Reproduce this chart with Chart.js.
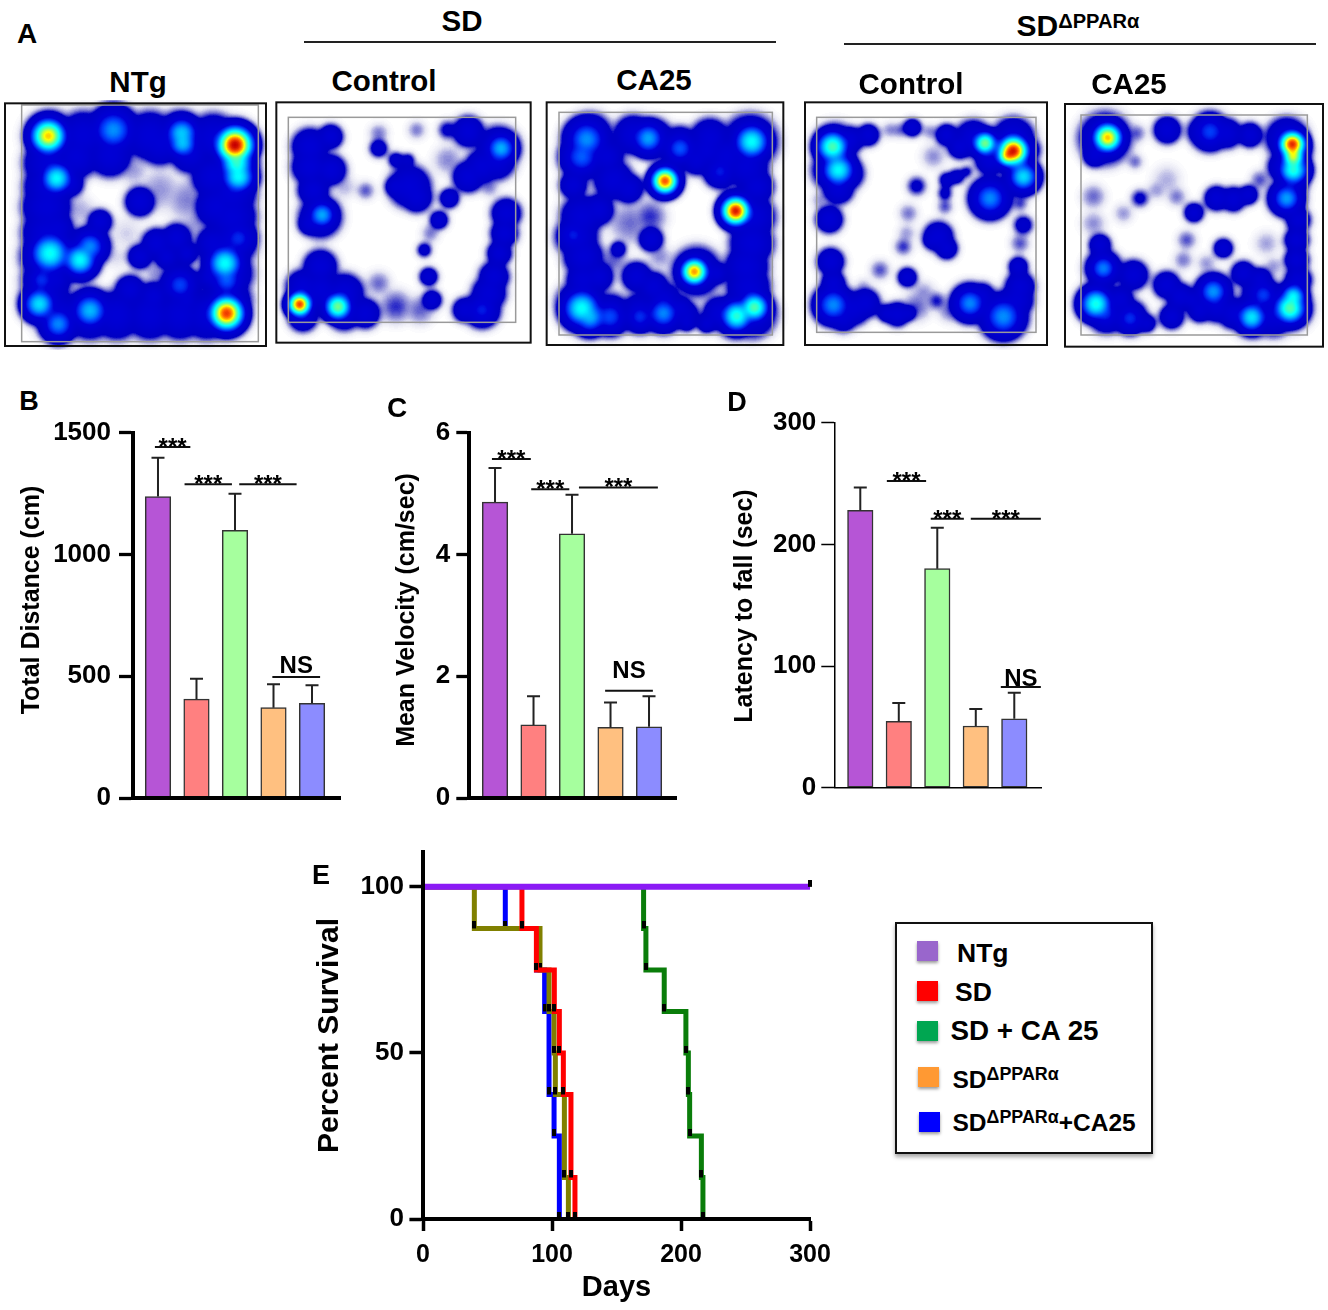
<!DOCTYPE html>
<html>
<head>
<meta charset="utf-8">
<title>Figure</title>
<script src="https://cdn.jsdelivr.net/npm/chart.js@4"></script>
<style>
  html, body { margin: 0; padding: 0; background: #fff; }
  body { position: relative; width: 1328px; height: 1310px; overflow: hidden; font-family: "Liberation Sans", Arial, sans-serif; font-weight: bold; color: #000; }
  canvas { position: absolute; display: block; }
  .txt { position: absolute; line-height: 1; white-space: nowrap; }
  .txt sup { line-height: 0; font-size: .67em; vertical-align: .42em; }
  .rule { position: absolute; height: 2px; background: #222; }
  .legend { position: absolute; left: 895px; top: 922px; width: 254px; height: 228px; border: 2.5px solid #111; box-shadow: 0 3px 4px rgba(0,0,0,.35); }
  .swatch { position: absolute; width: 21px; height: 20px; box-shadow: 0 2px 3px rgba(0,0,0,.4); }
</style>
</head>
<body>
<script>
// ---- bar panels B, C, D ----
const groups = ["NTg", "SD", "SD + CA 25", "SD\u0394PPAR\u03b1", "SD\u0394PPAR\u03b1+CA25"];
const groupColors = ["#B655D6", "#FF8080", "#A6FF9E", "#FFC080", "#8C8CFF"];

const distanceMeans = [1238, 406, 1099, 371, 389];
const distanceErr = [159, 84, 150, 96, 74];
const velocityMeans = [4.86, 1.2, 4.34, 1.16, 1.17];
const velocityErr = [0.56, 0.47, 0.64, 0.41, 0.5];
const latencyMeans = [228, 54.5, 180, 50.7, 56.7];
const latencyErr = [18.8, 15.1, 33.7, 14, 21.3];

// from group, to group, value, text, gap over the line
const distanceSig = [[0.92, 1.84, 1441, "***"], [1.69, 2.92, 1288, "***"], [3.11, 4.6, 1288, "***"], [3.97, 5.21, 497, "NS", 4]];
const velocitySig = [[0.92, 1.93, 5.57, "***"], [1.94, 2.93, 5.07, "***"], [3.18, 5.23, 5.1, "***"], [3.86, 5.1, 1.76, "NS", 13]];
const latencySig = [[1.69, 2.71, 252, "***"], [2.83, 3.69, 221, "***"], [3.87, 5.69, 221, "***"], [4.65, 5.69, 82.7, "NS", 1]];

// ---- survival panel E ----
const ntgDays = [0, 300];
const ntgPct = [100, 100];
const sdDays = [0, 76.7, 87.9, 101.8, 105.7, 108.8, 114.7, 117.8];
const sdPct = [100, 87.5, 75, 62.5, 50, 37.5, 12.5, 0];
const caDays = [0, 171, 172.8, 187, 203.8, 205.7, 206.7, 215.8, 217];
const caPct = [100, 87.5, 75, 62.5, 50, 37.5, 25, 12.5, 0];
const koDays = [0, 39.8, 90.7, 97.7, 101.6, 102.6, 109.6, 112.7];
const koPct = [100, 87.5, 75, 62.5, 50, 37.5, 12.5, 0];
const koCaDays = [0, 63.8, 88, 94.3, 97.7, 101.6, 105.7];
const koCaPct = [100, 87.5, 75, 62.5, 37.5, 25, 0];

// ---- track heat maps A: x, y, spread, density ----
const ntgSpots = [
  [150,108,100,.35],[250,108,100,.35],[350,108,100,.35],[450,108,100,.35],[540,108,100,.35],[640,115,100,.35],[700,135,100,.35],
  [700,200,100,.35],[695,280,100,.35],[695,350,100,.35],[695,430,100,.35],[685,520,100,.35],[680,600,100,.35],[675,640,100,.35],
  [620,645,100,.35],[540,645,100,.35],[450,645,100,.35],[350,645,100,.35],[270,645,100,.35],[180,650,100,.35],[135,600,100,.35],
  [140,540,100,.35],[135,470,100,.35],[140,400,100,.35],[140,320,100,.35],[145,260,100,.35],[145,190,100,.35],
  [230,170,90,.35],[330,165,90,.35],[480,130,90,.35],[570,160,80,.35],[640,230,90,.35],[650,320,90,.35],[210,250,55,.35],
  [420,305,60,.35],[300,365,50,.35],[470,430,60,.35],[530,415,60,.35],[420,470,50,.35],[390,570,60,.35],[460,590,60,.35],
  [640,430,70,.35],[630,530,50,.35],[540,550,70,.35],[170,540,50,.35],[230,630,40,.35],
  [170,385,70,.35],[190,440,60,.35],[250,420,50,.35],[500,470,50,.35],[560,460,45,.35],[560,600,50,.35],
  [145,108,110,.88],[705,135,115,1],[715,230,80,.68],[710,190,80,.72],[680,640,110,.96],[170,235,75,.68],
  [150,460,95,.68],[240,480,80,.68],[270,440,70,.55],[118,612,75,.65],[270,632,85,.6],[175,672,70,.55],
  [675,490,85,.68],[680,540,70,.5],[545,100,80,.62],[548,130,70,.62],[340,90,90,.55],[540,555,70,.47],[125,540,60,.45],[715,415,70,.44],
  [480,270,90,.07],[560,300,90,.08],[590,370,70,.07],[400,210,60,.07],[240,330,60,.06],[380,400,70,.04],[470,520,50,.08],[150,310,30,.08],[350,470,50,.04]
];
const sdSpots = [
  [89,613,75,1],[204,620,85,.8],[151,500,70,.35],[99,560,70,.35],[151,570,80,.35],[223,580,80,.35],[285,640,60,.35],[223,640,70,.35],[99,650,60,.35],
  [120,140,75,.35],[182,210,65,.35],[120,200,75,.35],[130,270,65,.35],[151,350,85,.35],[156,345,65,.6],[120,370,50,.35],[182,110,50,.35],
  [326,145,35,.3],[378,180,30,.3],[414,180,25,.3],[440,90,35,.1],[533,90,40,.2],[326,100,40,.1],[595,95,65,.35],
  [693,145,70,.6],[685,145,90,.35],[636,200,70,.35],[595,230,65,.35],[678,180,80,.35],
  [419,260,85,.35],[440,290,65,.35],[378,260,45,.35],[538,295,38,.35],[507,360,35,.35],[463,450,28,.3],[476,530,35,.35],[486,600,40,.35],[287,272,35,.12],
  [709,340,60,.35],[703,400,55,.35],[688,460,50,.35],[672,530,60,.35],[657,580,70,.35],[636,630,65,.42],[585,630,50,.35],
  [378,620,70,.12],[326,550,50,.1],[450,630,60,.1],[481,400,35,.1],[223,260,50,.06],[533,180,60,.08],[657,260,40,.1]
];
const sdCaSpots = [
  [375,243,85,.97],[587,333,90,1],[463,515,85,.93],[635,125,85,.68],[125,625,90,.68],[150,650,80,.6],[590,648,75,.72],[643,622,70,.76],
  [140,118,85,.55],[125,170,80,.5],[325,115,70,.58],[420,145,65,.5],[540,215,60,.42],[370,640,70,.55],[300,650,60,.45],[210,650,70,.48],[100,405,60,.42],
  [150,105,90,.35],[280,105,80,.35],[340,115,80,.35],[420,130,70,.35],[510,115,80,.35],[630,125,110,.35],[110,170,75,.35],[100,255,55,.35],[200,170,70,.35],
  [220,240,80,.35],[265,265,60,.35],[560,170,90,.35],[620,200,90,.35],[650,260,70,.35],[640,350,90,.35],[635,430,90,.35],[620,500,90,.35],[625,560,90,.35],[635,640,100,.35],[590,650,90,.35],[500,150,80,.35],[470,180,60,.35],
  [125,350,85,.35],[110,410,85,.35],[130,470,80,.35],[175,330,65,.35],[175,530,60,.35],[130,540,70,.35],[115,610,90,.35],[150,645,90,.35],[210,645,85,.35],
  [333,418,50,.35],[235,447,30,.33],[270,370,90,.09],[330,350,70,.12],[220,480,60,.1],[360,470,50,.08],[240,130,50,.1],
  [290,530,60,.35],[340,560,60,.35],[370,600,70,.35],[300,640,80,.35],[380,635,75,.35],[440,640,50,.3],[470,515,100,.35],[530,520,45,.35],[540,640,70,.35],[420,625,50,.35],[500,670,40,.35],[440,665,40,.35]
];
const koSpots = [
  [640,153,95,1],[625,165,70,.97],[555,130,75,.82],[98,140,75,.75],[115,210,80,.68],[670,230,70,.65],[570,295,75,.55],[100,615,75,.55],[510,610,70,.55],[610,650,85,.55],
  [105,135,85,.35],[150,120,55,.35],[205,105,45,.35],[100,210,85,.35],[140,220,70,.35],[115,265,65,.35],[88,358,55,.35],[92,485,55,.35],[100,550,50,.35],[105,610,75,.35],[160,625,70,.35],[195,610,60,.35],[130,650,60,.35],
  [292,643,50,.35],[260,640,35,.35],[325,640,30,.35],[337,83,35,.35],[440,105,45,.35],[520,115,75,.35],[480,140,50,.35],[640,115,85,.35],[675,150,60,.35],[675,240,55,.35],[570,295,75,.35],[570,180,60,.35],
  [470,230,30,.3],[440,240,30,.3],[500,215,20,.3],[435,280,28,.25],[435,320,30,.14],[590,240,30,.12],
  [415,410,60,.35],[440,445,45,.35],[395,420,35,.35],[350,258,40,.2],[322,532,38,.35],[410,603,35,.16],
  [670,375,40,.26],[660,430,40,.12],[655,500,38,.35],[660,560,60,.35],[650,600,70,.35],[610,640,85,.35],[510,610,80,.35],[545,590,55,.35],
  [325,340,40,.1],[320,400,35,.08],[310,440,35,.14],[240,510,40,.12],[190,560,30,.08],[350,620,60,.1],[370,580,50,.08],[450,630,50,.1],[60,300,35,.08],[660,310,30,.15],[400,170,50,.08],[270,90,30,.1],[390,95,30,.1],[300,90,30,.12]
];
const koCaSpots = [
  [143,113,90,.9],[697,133,85,1],[700,170,70,.88],[700,210,70,.72],[680,295,65,.58],[130,505,60,.55],[108,612,75,.7],[690,625,75,.76],[700,590,60,.7],[575,652,70,.66],[460,575,65,.57],[450,95,70,.47],[610,585,60,.47],[210,655,60,.45],[135,640,60,.45],
  [135,115,105,.35],[105,165,50,.35],[322,90,55,.35],[430,95,65,.35],[500,100,60,.35],[570,105,50,.35],[680,115,85,.35],[705,150,70,.35],[670,200,65,.35],[700,250,60,.35],[670,300,65,.35],
  [715,360,50,.35],[710,420,50,.35],[710,480,50,.35],[715,540,55,.35],[685,620,95,.35],[640,645,85,.35],[580,645,90,.35],[520,640,65,.35],[470,620,65,.35],[460,575,75,.35],[420,630,50,.35],
  [600,580,75,.35],[550,520,50,.35],[600,540,50,.35],[490,445,40,.35],[402,338,38,.35],[240,295,35,.2],[470,295,50,.35],[520,298,50,.35],[565,285,38,.35],
  [120,435,45,.35],[130,505,75,.35],[220,525,60,.35],[115,610,85,.35],[140,645,75,.35],[180,600,55,.35],[210,650,70,.35],[260,670,35,.35],
  [320,555,55,.35],[360,590,55,.35],[335,650,50,.35],[395,600,40,.35],
  [225,185,30,.12],[100,290,50,.1],[100,370,50,.08],[230,100,35,.12],[350,290,40,.1],[290,270,40,.08],[600,240,40,.12],[380,420,40,.12],[370,480,40,.1],[320,240,60,.06],[190,340,40,.08],[620,430,50,.07],[640,500,40,.08],[440,490,40,.08]
];

Chart.defaults.font.family = '"Liberation Sans", Arial, sans-serif';
Chart.defaults.color = "#000";
Chart.defaults.animation = false;

function addCanvas(left, top, w, h) {
  const c = document.createElement("canvas");
  c.width = w;
  c.height = h;
  c.style.left = left + "px";
  c.style.top = top + "px";
  c.style.width = w + "px";
  c.style.height = h + "px";
  document.body.appendChild(c);
  return c;
}

function addText(html, x, y, size, alignLeft) {
  const d = document.createElement("div");
  d.className = "txt";
  d.innerHTML = html;
  d.style.left = x + "px";
  d.style.top = y + "px";
  d.style.fontSize = size + "px";
  d.style.transform = alignLeft ? "translateY(-50%)" : "translate(-50%,-50%)";
  document.body.appendChild(d);
}

function addRule(x1, x2, y) {
  const d = document.createElement("div");
  d.className = "rule";
  d.style.left = x1 + "px";
  d.style.top = y + "px";
  d.style.width = (x2 - x1) + "px";
  document.body.appendChild(d);
}

// keep the plot area where it was asked for, whatever the tick labels measure
function fixBox(s, w, h) {
  if (w) s.width = w;
  if (h) s.height = h;
  s.paddingLeft = s.paddingRight = s.paddingTop = s.paddingBottom = 0;
}

// ---- heat maps ----
// blobs go down as grey levels (keeping the max), then the grey is mapped through a jet ramp
const rampStops = [
  [0, 255, 255, 255], [.03, 228, 228, 242], [.08, 125, 125, 210], [.13, 0, 0, 195], [.36, 0, 0, 215],
  [.46, 0, 70, 255], [.56, 0, 170, 255], [.65, 0, 255, 255], [.74, 100, 255, 150], [.82, 255, 255, 0],
  [.9, 255, 90, 0], [.96, 200, 0, 0], [1, 110, 0, 0]
];
const ramp = [];
for (let i = 0; i < 256; i++) {
  const t = i / 255;
  let k = 0;
  while (k < rampStops.length - 2 && t > rampStops[k + 1][0]) k++;
  const a = rampStops[k], b = rampStops[k + 1];
  const f = (t - a[0]) / (b[0] - a[0]);
  ramp.push([a[1] + (b[1] - a[1]) * f, a[2] + (b[2] - a[2]) * f, a[3] + (b[3] - a[3]) * f]);
}

const spriteCache = {};
function spotSprite(r, w) {
  const key = r + "_" + w;
  if (spriteCache[key]) return spriteCache[key];
  const size = Math.ceil(r) * 2 + 1;
  const c = document.createElement("canvas");
  c.width = c.height = size;
  const g = c.getContext("2d");
  const img = g.createImageData(size, size);
  const mid = (size - 1) / 2;
  for (let py = 0; py < size; py++) {
    for (let px = 0; px < size; px++) {
      const t2 = ((px - mid) ** 2 + (py - mid) ** 2) / (r * r);
      if (t2 >= 1) continue;
      const v = Math.round(255 * w * (1 - t2) * (1 - t2));
      const o = (py * size + px) * 4;
      img.data[o] = img.data[o + 1] = img.data[o + 2] = v;
      img.data[o + 3] = 255;
    }
  }
  g.putImageData(img, 0, 0);
  spriteCache[key] = c;
  return c;
}

// how far a blob reaches depends on how dense it is
function spotReach(w) {
  if (w >= .8) return .85;
  if (w >= .6) return 1.1;
  if (w >= .4) return 1.2;
  return 1.08;
}

const heatPlugin = {
  id: "heat",
  beforeDatasetsDraw(chart) {
    const ctx = chart.ctx;
    ctx.fillStyle = "#000";
    ctx.fillRect(0, 0, chart.width, chart.height);
    ctx.globalCompositeOperation = "lighten";
  },
  afterDatasetsDraw(chart, args, opts) {
    const ctx = chart.ctx;
    ctx.globalCompositeOperation = "source-over";
    ctx.save();
    ctx.filter = "blur(3px)";
    ctx.drawImage(chart.canvas, 0, 0);
    ctx.restore();
    const img = ctx.getImageData(0, 0, chart.width, chart.height);
    const d = img.data;
    for (let i = 0; i < d.length; i += 4) {
      const col = ramp[d[i]];
      d[i] = col[0];
      d[i + 1] = col[1];
      d[i + 2] = col[2];
      d[i + 3] = 255;
    }
    ctx.putImageData(img, 0, 0);
    const sx = chart.scales.x, sy = chart.scales.y;
    const frame = (b, color, width) => {
      ctx.strokeStyle = color;
      ctx.lineWidth = width;
      const x = sx.getPixelForValue(b[0]), y = sy.getPixelForValue(b[1]);
      ctx.strokeRect(x, y, sx.getPixelForValue(b[2]) - x, sy.getPixelForValue(b[3]) - y);
    };
    frame(opts.arena, "#9a9a9a", 1.5);
    frame(opts.box, "#111", 2);
  }
};

function heatPanel(left, top, w, h, spots, box, arena) {
  new Chart(addCanvas(left, top, w, h), {
    type: "bubble",
    data: {
      datasets: [{
        data: spots.map(s => ({ x: s[0], y: s[1], r: Math.round(s[2] / 3 * spotReach(s[3])), w: s[3] })),
        pointStyle: c => spotSprite(c.raw.r, c.raw.w),
        clip: false
      }]
    },
    options: {
      responsive: false,
      devicePixelRatio: 1,
      events: [],
      layout: { autoPadding: false },
      plugins: { legend: { display: false }, tooltip: { enabled: false }, heat: { box, arena } },
      scales: {
        x: { type: "linear", min: 0, max: w * 3, display: false },
        y: { type: "linear", min: 0, max: h * 3, reverse: true, display: false }
      }
    },
    plugins: [heatPlugin]
  });
}

heatPanel(0, 100, 270, 250, ntgSpots, [15, 10, 798, 738], [65, 15, 775, 725]);
heatPanel(270, 100, 270, 250, sdSpots, [19, 7, 782, 728], [55, 52, 737, 667]);
heatPanel(540, 100, 250, 250, sdCaSpots, [20, 7, 730, 735], [57, 37, 697, 705]);
heatPanel(800, 100, 250, 250, koSpots, [15, 7, 741, 735], [50, 52, 708, 697]);
heatPanel(1060, 100, 268, 250, koCaSpots, [15, 12, 789, 740], [63, 45, 742, 705]);

// ---- bar charts ----
const barExtras = {
  id: "barExtras",
  afterDatasetsDraw(chart, args, opts) {
    const ctx = chart.ctx;
    const sx = chart.scales.x, sy = chart.scales.y;
    const bars = chart.getDatasetMeta(0).data;
    ctx.save();
    // error bars
    ctx.strokeStyle = "#222";
    ctx.lineWidth = 2;
    bars.forEach((b, i) => {
      const top = sy.getPixelForValue(opts.means[i] + opts.err[i]);
      ctx.beginPath();
      ctx.moveTo(b.x, b.y);
      ctx.lineTo(b.x, top);
      ctx.moveTo(b.x - 6.5, top);
      ctx.lineTo(b.x + 6.5, top);
      ctx.stroke();
    });
    // significance lines
    ctx.strokeStyle = "#111";
    ctx.fillStyle = "#000";
    ctx.textAlign = "center";
    ctx.textBaseline = "alphabetic";
    ctx.font = 'bold 24px "Liberation Sans", Arial, sans-serif';
    opts.sig.forEach(s => {
      const x1 = sx.getPixelForValue(s[0]), x2 = sx.getPixelForValue(s[1]), y = sy.getPixelForValue(s[2]);
      ctx.beginPath();
      ctx.moveTo(x1, y);
      ctx.lineTo(x2, y);
      ctx.stroke();
      const yText = s[3] === "NS" ? y - s[4] : y + 8;
      ctx.fillText(s[3], (x1 + x2) / 2, yText);
    });
    // y title
    ctx.translate(opts.titleX, opts.titleY);
    ctx.rotate(-Math.PI / 2);
    ctx.textBaseline = "middle";
    ctx.font = 'bold 25px "Liberation Sans", Arial, sans-serif';
    ctx.fillText(opts.title, 0, 0);
    ctx.restore();
  }
};

function barPanel(p) {
  new Chart(addCanvas(p.left, p.top, p.w, p.h), {
    type: "bar",
    data: {
      datasets: [{
        label: p.title,
        data: p.means.map((v, i) => ({ x: i + 1, y: v })),
        backgroundColor: groupColors,
        borderColor: "#333",
        borderWidth: 1.5,
        borderSkipped: false,
        barThickness: 25.5
      }]
    },
    options: {
      responsive: false,
      devicePixelRatio: 1,
      events: [],
      layout: { autoPadding: false, padding: { top: p.padTop, right: p.padRight, left: 0, bottom: 0 } },
      plugins: {
        legend: { display: false },
        tooltip: { enabled: false },
        barExtras: { means: p.means, err: p.err, sig: p.sig, title: p.title, titleX: p.titleX, titleY: p.titleY }
      },
      scales: {
        x: {
          type: "linear", min: p.xMin, max: p.xMax, offset: false,
          grid: { display: false, offset: false },
          border: { display: true, color: "#000", width: p.axisW, z: 1 },
          ticks: { display: false },
          afterFit(s) { fixBox(s, 0, p.xHeight); }
        },
        y: {
          min: 0, max: p.yMax,
          grid: { drawOnChartArea: false, drawTicks: true, tickLength: p.tickLen, tickWidth: p.tickW, tickColor: "#000" },
          border: { display: true, color: "#000", width: p.axisW, z: 1 },
          ticks: { stepSize: p.step, padding: p.tickPad, font: { size: 26, weight: "bold" }, callback: v => String(v) },
          afterFit(s) { fixBox(s, p.yWidth, 0); }
        }
      }
    },
    plugins: [barExtras]
  });
}

barPanel({
  left: 0, top: 420, w: 345, h: 390, padTop: 12.7, padRight: 5, xHeight: 12, yWidth: 133,
  xMin: 0.351, xMax: 5.727, yMax: 1500, step: 500, axisW: 4, tickLen: 14, tickW: 3.3, tickPad: 8,
  means: distanceMeans, err: distanceErr, sig: distanceSig, title: "Total Distance (cm)", titleX: 32, titleY: 180
});
barPanel({
  left: 380, top: 420, w: 300, h: 390, padTop: 12.7, padRight: 3.3, xHeight: 12, yWidth: 89.3,
  xMin: 0.332, xMax: 5.719, yMax: 6, step: 2, axisW: 4, tickLen: 13, tickW: 3.3, tickPad: 6,
  means: velocityMeans, err: velocityErr, sig: velocitySig, title: "Mean Velocity (cm/sec)", titleX: 27, titleY: 190
});
barPanel({
  left: 720, top: 410, w: 325, h: 390, padTop: 12.7, padRight: 4, xHeight: 12.3, yWidth: 114.3,
  xMin: 0.325, xMax: 5.694, yMax: 300, step: 100, axisW: 1.5, tickLen: 13, tickW: 1.5, tickPad: 5,
  means: latencyMeans, err: latencyErr, sig: latencySig, title: "Latency to fall (sec)", titleX: 25, titleY: 196
});

// ---- survival ----
// black censor tick sits just above the line level
const tickMark = document.createElement("canvas");
tickMark.width = 4;
tickMark.height = 14;
tickMark.getContext("2d").fillRect(0, 0, 4, 7);

function survival(label, days, pct, color, width) {
  return {
    label,
    data: days.map((d, i) => ({ x: d, y: pct[i] })),
    borderColor: color,
    borderWidth: width,
    borderJoinStyle: "miter",
    stepped: true,
    fill: false,
    clip: false,
    pointStyle: tickMark,
    pointRadius: c => (c.dataIndex === 0 ? 0 : 3)
  };
}

new Chart(addCanvas(300, 840, 540, 470), {
  type: "line",
  data: {
    datasets: [
      survival(groups[0], ntgDays, ntgPct, "#8B1AF5", 6),
      survival(groups[1], sdDays, sdPct, "#FF0000", 5),
      survival(groups[2], caDays, caPct, "#0A7D0A", 5),
      survival(groups[3], koDays, koPct, "#808000", 5),
      survival(groups[4], koCaDays, koCaPct, "#0000FF", 5)
    ]
  },
  options: {
    responsive: false,
    devicePixelRatio: 1,
    events: [],
    layout: { autoPadding: false, padding: { top: 12, right: 30, left: 0, bottom: 0 } },
    plugins: { legend: { display: false }, tooltip: { enabled: false } },
    scales: {
      x: {
        type: "linear", min: 0, max: 300,
        grid: { drawOnChartArea: false, drawTicks: true, tickLength: 12, tickWidth: 3.5, tickColor: "#000" },
        border: { display: true, color: "#000", width: 4, z: 1 },
        ticks: { stepSize: 100, padding: 9, maxRotation: 0, font: { size: 25, weight: "bold" } },
        title: { display: true, text: "Days", font: { size: 29, weight: "bold" }, padding: { top: 0, bottom: 4.6 } },
        afterFit(s) { fixBox(s, 0, 91); }
      },
      y: {
        min: 0, max: 110.5,
        grid: { drawOnChartArea: false, drawTicks: true, tickLength: 13.6, tickWidth: 3.5, tickColor: "#000" },
        border: { display: true, color: "#000", width: 4, z: 1 },
        ticks: { stepSize: 50, includeBounds: false, padding: 5.4, font: { size: 26, weight: "bold" } },
        title: { display: true, text: "Percent Survival", font: { size: 30, weight: "bold" }, padding: { top: 12, bottom: 0 } },
        afterFit(s) { fixBox(s, 123, 0); }
      }
    }
  }
});

// ---- page text ----
addText("A", 27, 34, 28);
addText("B", 29, 401, 27);
addText("C", 397, 408, 28);
addText("D", 737, 402, 27);
addText("E", 321, 875, 27);
addText("NTg", 138, 82, 29.5);
addText("SD", 462, 21, 29.5);
addText("Control", 384, 81, 29.5);
addText("CA25", 654, 80, 29.5);
addText("SD<sup>\u0394PPAR\u03b1</sup>", 1078, 26, 30);
addText("Control", 911, 84, 29.5);
addText("CA25", 1129, 84, 29.5);
addRule(304, 776, 41);
addRule(844, 1316, 43);

// ---- legend ----
const legend = document.createElement("div");
legend.className = "legend";
document.body.appendChild(legend);
const legendColors = ["#9966CC", "#FF0000", "#00A651", "#FF9933", "#0000FF"];
[[917, 941], [917, 981], [917, 1021], [918, 1067], [919, 1112]].forEach((p, i) => {
  const s = document.createElement("div");
  s.className = "swatch";
  s.style.left = p[0] + "px";
  s.style.top = p[1] + "px";
  s.style.background = legendColors[i];
  document.body.appendChild(s);
});
addText("NTg", 957, 953, 26.5, true);
addText("SD", 955, 992, 26.5, true);
addText("SD + CA 25", 950.5, 1031, 27.8, true);
addText('SD<sup style="font-size:.73em">\u0394PPAR\u03b1</sup>', 952.5, 1079.5, 24.5, true);
addText('SD<sup style="font-size:.73em">\u0394PPAR\u03b1</sup>+CA25', 952.5, 1123, 24.5, true);
</script>
</body>
</html>
